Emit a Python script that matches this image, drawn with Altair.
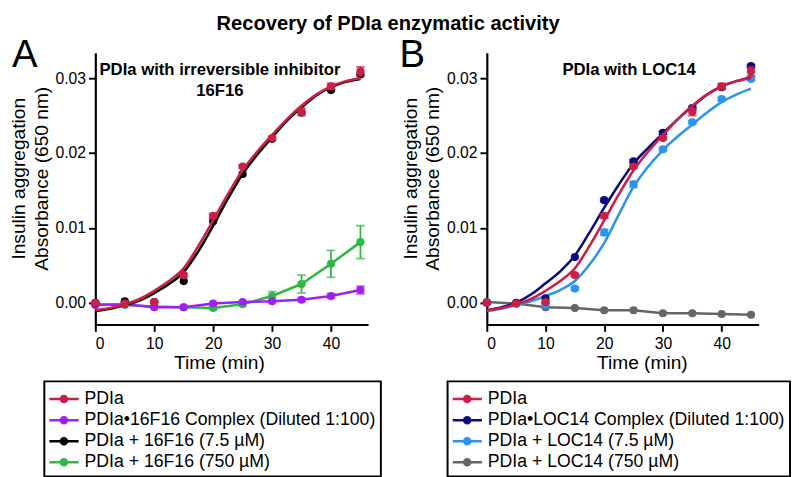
import altair as alt
import pandas as pd

FONT = "Liberation Sans"

# ---------------- data ----------------
times = [0, 5, 10, 15, 20, 25, 30, 35, 40, 45]
fit_times = [0, 2.5, 5, 7.5, 10, 12.5, 15, 17.5, 20, 22.5, 25, 27.5, 30, 32.5, 35, 37.5, 40, 42.5, 45]

# shared PDIa control
pdia = [0.0000, -0.0001, 0.0001, 0.0037, 0.0116, 0.0182, 0.0220, 0.0255, 0.0289, 0.0309]
pdia_err = [0.0001, 0.0001, 0.0001, 0.0002, 0.0003, 0.0002, 0.0002, 0.0005, 0.0004, 0.0006]
pdia_fit = [-0.0010, -0.0007, -0.0002, 0.0005, 0.0016, 0.0029, 0.0046, 0.0076, 0.0110, 0.0145,
            0.0177, 0.0202, 0.0224, 0.0245, 0.0263, 0.0278, 0.0289, 0.0296, 0.0300]

# panel A (16F16)
a_labels = ["PDIa", "PDIa\u202216F16 Complex (Diluted 1:100)",
            "PDIa + 16F16 (7.5 \u00b5M)", "PDIa + 16F16 (750 \u00b5M)"]
a_colors = ["#cb1f47", "#a020f0", "#000000", "#2fb843"]
a_complex = [-0.0003, -0.0002, -0.0006, -0.0006, -0.0001, 0.0001, 0.0002, 0.0004, 0.0009, 0.0017]
a_complex_err = [0, 0, 0, 0, 0, 0, 0.0001, 0.0002, 0.0003, 0.0005]
a_low = [0.0000, 0.0002, 0.0001, 0.0029, 0.0109, 0.0172, 0.0219, 0.0254, 0.0284, 0.0305]
a_low_err = [0, 0, 0, 0, 0, 0, 0, 0, 0, 0]
a_low_fit = [-0.0011, -0.0008, -0.0003, 0.0003, 0.0013, 0.0025, 0.0041, 0.0069, 0.0103, 0.0139,
             0.0172, 0.0198, 0.0221, 0.0243, 0.0261, 0.0277, 0.0288, 0.0295, 0.0299]
a_high = [-0.0002, -0.0003, -0.0005, -0.0006, -0.0007, -0.0002, 0.0009, 0.0025, 0.0052, 0.0081]
a_high_err = [0, 0, 0, 0, 0.0002, 0.0002, 0.0006, 0.0012, 0.0018, 0.0022]

# panel B (LOC14)
b_labels = ["PDIa", "PDIa\u2022LOC14 Complex (Diluted 1:100)",
            "PDIa + LOC14 (7.5 \u00b5M)", "PDIa + LOC14 (750 \u00b5M)"]
b_colors = ["#cb1f47", "#0c0c7c", "#2b95ec", "#666666"]
b_complex = [0.0000, 0.0000, 0.0006, 0.0061, 0.0137, 0.0189, 0.0227, 0.0260, 0.0288, 0.0316]
b_complex_err = [0, 0, 0, 0, 0.0002, 0.0002, 0.0002, 0.0002, 0.0002, 0.0002]
b_complex_fit = [-0.0010, -0.0006, 0.0000, 0.0011, 0.0026, 0.0042, 0.0063, 0.0094, 0.0127, 0.0158,
                 0.0186, 0.0207, 0.0226, 0.0245, 0.0262, 0.0278, 0.0289, 0.0296, 0.0301]
b_low = [0.0000, -0.0001, -0.0003, 0.0019, 0.0094, 0.0158, 0.0205, 0.0241, 0.0272, 0.0299]
b_low_err = [0, 0, 0, 0.0002, 0.0004, 0.0004, 0.0002, 0.0002, 0.0002, 0.0002]
b_low_fit = [-0.0011, -0.0008, -0.0003, 0.0002, 0.0009, 0.0017, 0.0029, 0.0051, 0.0080, 0.0118,
             0.0155, 0.0182, 0.0204, 0.0222, 0.0238, 0.0254, 0.0268, 0.0278, 0.0286]
b_high = [0.0001, -0.0001, -0.0006, -0.0007, -0.0010, -0.0010, -0.0014, -0.0014, -0.0015, -0.0016]
b_high_err = [0, 0, 0, 0, 0, 0, 0, 0, 0, 0]

x_ticks = [0, 10, 20, 30, 40]
y_ticks = [0.0, 0.01, 0.02, 0.03]

# ---------------- styling ----------------
X_DOMAIN = [0, 46.3]
Y_DOMAIN = [-0.0029, 0.0334]
PLOT_H = 277
LEGEND_SYMBOL = ("M-1,-0.085L1,-0.085L1,0.085L-1,0.085Z"
                 "M-0.29,0A0.29,0.29,0,1,1,0.29,0A0.29,0.29,0,1,1,-0.29,0Z")


def build_panel(labels, colors, series, letter, letter_x, subtitle, sub_x, legend_x, title_x, width):
    # legend scale (fill); the line/errorbar scales list the same categories in
    # reverse order so that their (hidden) legends are not merged with it
    fill_scale = alt.Scale(domain=labels, range=colors)
    line_scale = alt.Scale(domain=labels[::-1], range=colors[::-1])
    x_scale = alt.Scale(domain=X_DOMAIN, nice=False, zero=False)
    y_scale = alt.Scale(domain=Y_DOMAIN, nice=False, zero=False)
    x_axis = alt.Axis(values=x_ticks, title="Time (min)", titleX=title_x, grid=False)
    y_axis = alt.Axis(values=y_ticks, format=".2f", grid=False,
                      title=["Insulin aggregation", "Absorbance (650 nm)"], titleY=128)
    legend = alt.Legend(title=" ", titleFontSize=1, titlePadding=2.5,
                        orient="none", legendX=legend_x, legendY=335,
                        symbolType=LEGEND_SYMBOL, symbolSize=900, symbolStrokeWidth=0,
                        symbolOpacity=1, clipHeight=19, rowPadding=2.5, padding=5,
                        labelFontSize=18, labelFont=FONT, labelLimit=600, labelOffset=6,
                        strokeColor="black")
    X = alt.X("t:Q", scale=x_scale, axis=x_axis)
    Y = alt.Y("v:Q", scale=y_scale, axis=y_axis)

    layers = []
    for label, vals, errs, fit in series:
        pts = pd.DataFrame({"t": times, "v": vals, "e": errs})
        pts["series"] = label
        pts["lo"] = pts["v"] - pts["e"]
        pts["hi"] = pts["v"] + pts["e"]
        if fit is not None:
            ln = pd.DataFrame({"t": fit_times, "v": fit})
            ln["series"] = label
            interp = "monotone"
        else:
            ln = pts[["t", "v", "series"]]
            interp = "linear"
        layers.append(alt.Chart(ln).mark_line(strokeWidth=2.6, interpolate=interp).encode(
            x=X, y=Y, stroke=alt.Stroke("series:N", scale=line_scale, legend=None)))
        eb = pts[pts["e"] > 0]
        if len(eb):
            layers.append(alt.Chart(eb).mark_rule(strokeWidth=1.8).encode(
                x=X, y=alt.Y("lo:Q", scale=y_scale, axis=y_axis), y2="hi:Q",
                stroke=alt.Stroke("series:N", scale=line_scale, legend=None)))
            for end in ["lo", "hi"]:
                layers.append(alt.Chart(eb).mark_tick(orient="horizontal", size=9, thickness=1.8).encode(
                    x=X, y=alt.Y(f"{end}:Q", scale=y_scale, axis=y_axis),
                    color=alt.Color("series:N", scale=line_scale, legend=None)))
        layers.append(alt.Chart(pts).mark_circle(size=70, opacity=1).encode(
            x=X, y=Y, fill=alt.Fill("series:N", scale=fill_scale, legend=legend)))

    one = alt.Data(values=[{"k": 1}])
    layers.append(alt.Chart(one).mark_text(font=FONT, fontSize=39, align="left",
                                           baseline="alphabetic").encode(
        x=alt.value(letter_x), y=alt.value(15), text=alt.value(letter)))
    layers.append(alt.Chart(one).mark_text(font=FONT, fontSize=17, fontWeight="bold",
                                           align="center", baseline="alphabetic",
                                           lineHeight=21).encode(
        x=alt.value(sub_x), y=alt.value(23), text=alt.value(subtitle)))

    return alt.layer(*layers).properties(width=width, height=PLOT_H)


panel_a = build_panel(
    a_labels, a_colors,
    [(a_labels[3], a_high, a_high_err, None),
     (a_labels[1], a_complex, a_complex_err, None),
     (a_labels[2], a_low, a_low_err, a_low_fit),
     (a_labels[0], pdia, pdia_err, pdia_fit)],
    "A", -85, ["PDIa with irreversible inhibitor", "16F16"], 127, -52, 126, 278)

panel_b = build_panel(
    b_labels, b_colors,
    [(b_labels[3], b_high, b_high_err, None),
     (b_labels[2], b_low, b_low_err, b_low_fit),
     (b_labels[1], b_complex, b_complex_err, b_complex_fit),
     (b_labels[0], pdia, pdia_err, pdia_fit)],
    "B", -89, ["PDIa with LOC14"], 145, -40, 158, 277)

chart = alt.hconcat(panel_a, panel_b, spacing=121, bounds="flush").resolve_scale(
    x="independent", y="independent", fill="independent", stroke="independent",
    color="independent"
).resolve_legend(fill="independent").properties(
    title=alt.TitleParams("Recovery of PDIa enzymatic activity", font=FONT, fontSize=20.5,
                          fontWeight="bold", anchor="middle", offset=3, dx=-12),
    padding={"left": 0, "top": 1, "right": 0, "bottom": 0},
).configure_view(stroke=None).configure_axis(
    domainColor="black", domainWidth=2.2, tickColor="black", tickWidth=2, tickSize=7,
    labelFont=FONT, labelFontSize=16, labelColor="black", labelPadding=3,
    titleFont=FONT, titleFontSize=19.5, titleFontWeight="normal", titleColor="black",
    titleLineHeight=23,
).configure_axisX(labelPadding=5, titlePadding=2).configure_axisY(titlePadding=4
).configure_legend(strokeWidth=2)

chart.save("out.html", embed_options={"renderer": "svg", "actions": False})
